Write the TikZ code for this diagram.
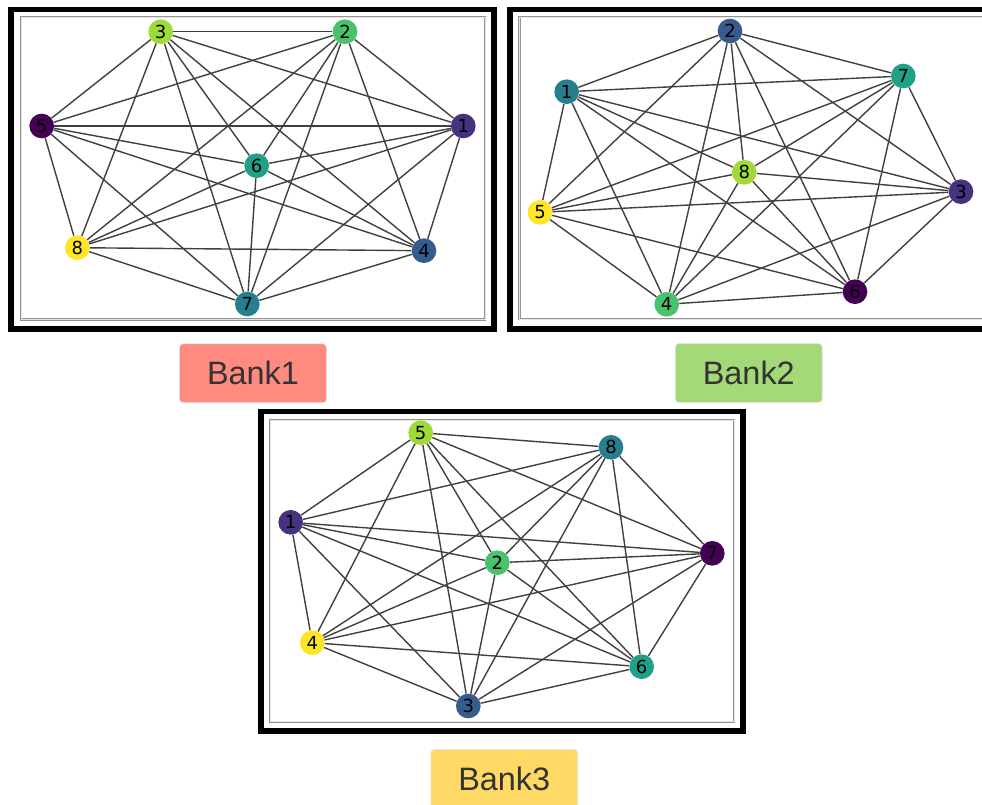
\documentclass[tikz,border=0pt]{standalone}
\usepackage{fontspec}
\setmainfont{Liberation Sans}
\newfontfamily\numfont{DejaVu Sans}
\definecolor{vA}{HTML}{440154}
\definecolor{vB}{HTML}{46327E}
\definecolor{vC}{HTML}{365C8D}
\definecolor{vD}{HTML}{277F8E}
\definecolor{vE}{HTML}{1FA187}
\definecolor{vF}{HTML}{4AC16D}
\definecolor{vG}{HTML}{A0DA39}
\definecolor{vH}{HTML}{FDE725}
\definecolor{bankred}{HTML}{FF8A80}
\definecolor{bankgreen}{HTML}{A3D977}
\definecolor{bankyellow}{HTML}{FFD966}
\definecolor{banktext}{HTML}{333333}
\tikzset{
  vtx/.style={circle, minimum size=18.5pt, inner sep=0pt, font=\numfont\fontsize{13.5}{13.5}\selectfont, text=black},
  edge/.style={draw=black!75, line width=1.05pt},
  outerframe/.style={draw=black, line width=3.8pt},
  innerframe/.style={draw=gray!85, double=white!80!gray, double distance=0.5pt, line width=0.55pt},
  banklabel/.style={rounded corners=2.5pt, draw=black!12, line width=0.4pt, minimum width=110pt, minimum height=44pt, inner sep=0pt, text=banktext, font=\fontsize{24.3}{24.3}\selectfont}
}
\begin{document}
\begin{tikzpicture}[x=0.75pt,y=-0.75pt]
\useasboundingbox (0,0) rectangle (982,804);
\clip (0,0) rectangle (982,804);
\fill[white] (0,0) rectangle (982,804);

% frames
\draw[outerframe] (11,9.3) rectangle (494,329);
\draw[innerframe] (21.3,17.3) rectangle (485,319.5);
\draw[outerframe] (510,9.3) rectangle (1000,329);
\draw[innerframe] (519.5,17.3) rectangle (1000,319.3);
\draw[outerframe] (261,411.7) rectangle (743,731);
\draw[innerframe] (270,420) rectangle (734.3,721.7);

% Bank1 graph
\node[vtx, fill=vB] (a1) at (463.3,126) {1};
\node[vtx, fill=vF] (a2) at (345,31.7) {2};
\node[vtx, fill=vG] (a3) at (160.7,31.7) {3};
\node[vtx, fill=vC] (a4) at (424,250.7) {4};
\node[vtx, fill=vA] (a5) at (41.7,126) {5};
\node[vtx, fill=vE] (a6) at (256.7,165.7) {6};
\node[vtx, fill=vD] (a7) at (247.3,304) {7};
\node[vtx, fill=vH] (a8) at (77.3,247.7) {8};

% Bank2 graph
\node[vtx, fill=vD] (b1) at (566.7,91.7) {1};
\node[vtx, fill=vC] (b2) at (730,31) {2};
\node[vtx, fill=vB] (b3) at (961,191.7) {3};
\node[vtx, fill=vF] (b4) at (666.7,304.3) {4};
\node[vtx, fill=vH] (b5) at (540,212.3) {5};
\node[vtx, fill=vA] (b6) at (855,291.7) {6};
\node[vtx, fill=vE] (b7) at (903.3,76) {7};
\node[vtx, fill=vG] (b8) at (744.3,172.3) {8};

% Bank3 graph
\node[vtx, fill=vB] (c1) at (290.7,522.3) {1};
\node[vtx, fill=vF] (c2) at (497.3,562.7) {2};
\node[vtx, fill=vC] (c3) at (468.3,706) {3};
\node[vtx, fill=vH] (c4) at (312.3,642.7) {4};
\node[vtx, fill=vG] (c5) at (420.7,432.7) {5};
\node[vtx, fill=vE] (c6) at (641.7,666.7) {6};
\node[vtx, fill=vA] (c7) at (712.3,553.3) {7};
\node[vtx, fill=vD] (c8) at (611,447.3) {8};

% complete graphs
\foreach \g in {a,b,c}{
  \foreach \i in {1,...,7}{
    \pgfmathtruncatemacro{\k}{\i+1}
    \foreach \j in {\k,...,8}{
      \draw[edge] (\g\i) -- (\g\j);
    }
  }
}

% labels
\node[banklabel, fill=bankred] (bank1) at (253,373.3) {Bank1};
\node[banklabel, fill=bankgreen] (bank2) at (748.8,373) {Bank2};
\node[banklabel, fill=bankyellow] (bank3) at (504.2,779) {Bank3};
\end{tikzpicture}
\end{document}
